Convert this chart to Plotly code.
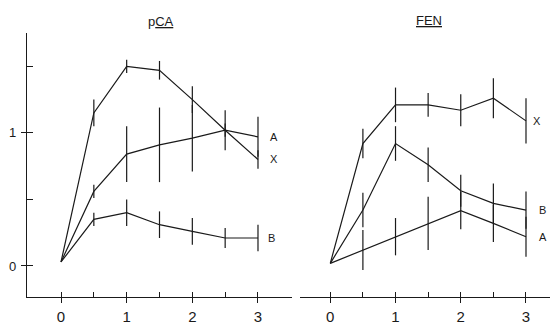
import plotly.graph_objects as go

# ---- data ----
times = [0, 0.5, 1, 1.5, 2, 2.5, 3]

pca_X = [0.03, 1.15, 1.50, 1.47, 1.25, 1.02, 0.80]
pca_X_err = [0, 0.10, 0.05, 0.07, 0.10, 0.15, 0.07]
pca_A = [0.03, 0.56, 0.84, 0.91, 0.96, 1.02, 0.97]
pca_A_err = [0, 0.05, 0.21, 0.28, 0.25, 0.05, 0.15]
pca_B = [0.03, 0.35, 0.40, 0.31, 0.26, 0.21, 0.21]
pca_B_err = [0, 0.05, 0.10, 0.10, 0.10, 0.075, 0.10]

fen_X = [0.02, 0.92, 1.21, 1.21, 1.17, 1.26, 1.09]
fen_X_err = [0, 0.11, 0.13, 0.09, 0.12, 0.15, 0.17]
fen_B = [0.02, 0.42, 0.92, 0.76, 0.565, 0.47, 0.42]
fen_B_err = [0, 0.13, 0.13, 0.13, 0.12, 0.15, 0.14]
fen_A = [0.02, 0.12, 0.22, 0.32, 0.415, 0.32, 0.22]
fen_A_err = [0, 0.15, 0.14, 0.20, 0.14, 0.14, 0.15]

panel_titles = ["p<u>CA</u>", "<u>FEN</u>"]
x_ticks = [0, 1, 2, 3]
x_minor = [0.5, 1.5, 2.5]
y_ticks = [0, 1]
y_tick_text = ["0", "1"]
y_minor = [0.5, 1.5]

INK = "#1a1a1a"
FONT = "Liberation Sans"

fig = go.Figure()

def add_series(y, err, xa, ya):
    fig.add_trace(go.Scatter(
        x=times, y=y, mode="lines", xaxis=xa, yaxis=ya,
        line=dict(color=INK, width=1.2),
        error_y=dict(type="data", array=err, visible=True, color=INK,
                     thickness=1.2, width=0),
        showlegend=False, hoverinfo="skip"))

add_series(pca_X, pca_X_err, "x", "y")
add_series(pca_A, pca_A_err, "x", "y")
add_series(pca_B, pca_B_err, "x", "y")
add_series(fen_X, fen_X_err, "x2", "y2")
add_series(fen_B, fen_B_err, "x2", "y2")
add_series(fen_A, fen_A_err, "x2", "y2")

# invisible traces so overlay axes are drawn
fig.add_trace(go.Scatter(x=[None], y=[None], xaxis="x3", yaxis="y", showlegend=False))
fig.add_trace(go.Scatter(x=[None], y=[None], xaxis="x4", yaxis="y2", showlegend=False))
fig.add_trace(go.Scatter(x=[None], y=[None], xaxis="x", yaxis="y3", showlegend=False))

yr = [-0.233, 1.75]
dom_l = [0, 0.5067]
dom_r = [0.522, 1]
xr_l = [-0.518, 3.518]
xr_r = [-0.464, 3.368]

def xaxis_main(domain, rng, anchor):
    return dict(domain=domain, range=rng, anchor=anchor, showline=True,
                automargin=False,
                linecolor=INK, linewidth=1.2, showgrid=False, zeroline=False,
                tickvals=x_ticks, ticktext=[str(v) for v in x_ticks],
                ticks="outside", ticklen=5, tickwidth=1.2, tickcolor=INK,
                tickfont=dict(family=FONT, size=15, color=INK),
                ticklabelstandoff=1,
                minor=dict(tickvals=x_minor, ticks="inside", ticklen=5,
                           tickwidth=1.2, tickcolor=INK, showgrid=False))

def xaxis_overlay(over, rng, anchor):
    return dict(overlaying=over, range=rng, anchor=anchor, showline=False,
                automargin=False,
                showgrid=False, zeroline=False, tickvals=x_ticks,
                showticklabels=False, ticks="inside", ticklen=5,
                tickwidth=1.2, tickcolor=INK)

fig.update_layout(
    width=551, height=324,
    margin=dict(l=27, r=1, t=33, b=27, autoexpand=False),
    paper_bgcolor="white", plot_bgcolor="white",
    xaxis=xaxis_main(dom_l, xr_l, "y"),
    xaxis2=xaxis_main(dom_r, xr_r, "y2"),
    xaxis3=xaxis_overlay("x", xr_l, "y"),
    xaxis4=xaxis_overlay("x2", xr_r, "y2"),
    yaxis=dict(range=yr, anchor="x", showline=True, linecolor=INK,
               automargin=False,
               linewidth=1.2, showgrid=False, zeroline=False,
               tickvals=y_ticks, ticktext=y_tick_text, ticks="outside",
               ticklen=5, tickwidth=1.2, tickcolor=INK,
               tickfont=dict(family=FONT, size=13, color=INK),
               ticklabelstandoff=2,
               minor=dict(tickvals=y_minor, ticks="inside", ticklen=6,
                          tickwidth=1.2, tickcolor=INK, showgrid=False)),
    yaxis3=dict(overlaying="y", range=yr, anchor="x", showline=False,
                automargin=False,
                showgrid=False, zeroline=False, tickvals=y_ticks,
                showticklabels=False, ticks="inside", ticklen=6,
                tickwidth=1.2, tickcolor=INK),
    yaxis2=dict(range=yr, anchor="x2", visible=False, automargin=False),
)

# panel titles
fig.add_annotation(text=panel_titles[0], xref="paper", yref="paper",
                   x=0.256, y=1.042, showarrow=False, xanchor="center",
                   yanchor="middle", font=dict(family=FONT, size=13, color=INK))
fig.add_annotation(text=panel_titles[1], xref="paper", yref="paper",
                   x=0.769, y=1.046, showarrow=False, xanchor="center",
                   yanchor="middle", font=dict(family=FONT, size=13, color=INK))

# series end labels
def end_label(text, ys, xa, ya, shift):
    fig.add_annotation(text=text, x=times[-1], y=ys[-1], xref=xa, yref=ya,
                       showarrow=False, xanchor="center", yanchor="middle",
                       xshift=shift, font=dict(family=FONT, size=11, color=INK))

end_label("A", pca_A, "x", "y", 16)
end_label("X", pca_X, "x", "y", 16)
end_label("B", pca_B, "x", "y", 14)
end_label("X", fen_X, "x2", "y2", 11)
end_label("B", fen_B, "x2", "y2", 17)
end_label("A", fen_A, "x2", "y2", 17)

fig.write_html("out.html", config={"displayModeBar": False},
               post_script="document.body.style.margin='0';")
